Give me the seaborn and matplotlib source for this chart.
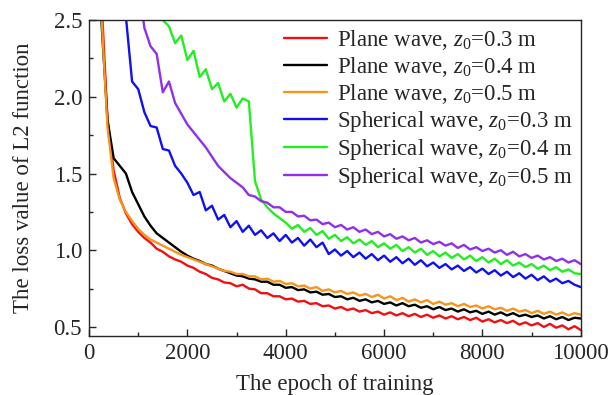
import numpy as np
import pandas as pd
import seaborn as sns
import matplotlib.pyplot as plt

# training epochs, sampled every 125
epochs = np.arange(0, 10001, 125)

plane_03 = [6.0, 4.2, 2.65, 1.85, 1.52, 1.34, 1.24, 1.17, 1.12, 1.08,
            1.05, 1.01, 0.99, 0.96, 0.94, 0.925, 0.90, 0.885, 0.86, 0.845,
            0.82, 0.81, 0.79, 0.785, 0.765, 0.775, 0.75, 0.745, 0.72, 0.72,
            0.70, 0.70, 0.68, 0.685, 0.665, 0.67, 0.65, 0.655, 0.635, 0.64,
            0.62, 0.63, 0.61, 0.62, 0.60, 0.61, 0.59, 0.60, 0.58, 0.595,
            0.575, 0.59, 0.57, 0.585, 0.565, 0.58, 0.56, 0.575, 0.555, 0.57,
            0.55, 0.565, 0.545, 0.56, 0.535, 0.55, 0.53, 0.545, 0.525, 0.54,
            0.515, 0.53, 0.51, 0.525, 0.50, 0.52, 0.495, 0.51, 0.485, 0.505,
            0.48]
plane_04 = [6.0, 4.0, 2.5, 1.85, 1.60, 1.55, 1.50, 1.38, 1.30, 1.22,
            1.16, 1.11, 1.08, 1.05, 1.02, 0.99, 0.965, 0.945, 0.93, 0.91,
            0.90, 0.88, 0.865, 0.85, 0.835, 0.83, 0.815, 0.81, 0.795, 0.795,
            0.775, 0.775, 0.755, 0.76, 0.74, 0.745, 0.725, 0.73, 0.71, 0.715,
            0.695, 0.70, 0.68, 0.69, 0.67, 0.68, 0.66, 0.67, 0.65, 0.66,
            0.64, 0.655, 0.635, 0.645, 0.625, 0.635, 0.615, 0.63, 0.61, 0.62,
            0.60, 0.615, 0.595, 0.605, 0.585, 0.60, 0.58, 0.595, 0.575, 0.59,
            0.57, 0.58, 0.565, 0.575, 0.555, 0.57, 0.55, 0.565, 0.545, 0.56,
            0.555]
plane_05 = [6.0, 4.0, 2.55, 1.80, 1.47, 1.33, 1.25, 1.19, 1.14, 1.10,
            1.07, 1.05, 1.03, 1.01, 0.99, 0.97, 0.955, 0.94, 0.925, 0.91,
            0.895, 0.88, 0.865, 0.86, 0.845, 0.845, 0.83, 0.83, 0.81, 0.815,
            0.795, 0.80, 0.78, 0.785, 0.765, 0.77, 0.75, 0.76, 0.735, 0.745,
            0.725, 0.735, 0.715, 0.725, 0.705, 0.715, 0.695, 0.71, 0.685, 0.70,
            0.675, 0.69, 0.665, 0.68, 0.66, 0.675, 0.65, 0.665, 0.645, 0.655,
            0.635, 0.65, 0.63, 0.64, 0.62, 0.635, 0.615, 0.625, 0.605, 0.62,
            0.60, 0.61, 0.59, 0.605, 0.585, 0.60, 0.58, 0.595, 0.575, 0.59,
            0.58]
sph_03 = [8.0, 6.0, 4.5, 3.6, 3.0, 2.7, 2.52, 2.10, 2.05, 1.90,
          1.81, 1.80, 1.66, 1.65, 1.55, 1.50, 1.44, 1.36, 1.38, 1.26,
          1.29, 1.20, 1.23, 1.15, 1.19, 1.12, 1.16, 1.10, 1.13, 1.08,
          1.11, 1.06, 1.10, 1.05, 1.08, 1.03, 1.07, 1.02, 1.05, 0.975,
          1.005, 0.965, 0.995, 0.955, 0.985, 0.945, 0.975, 0.935, 0.965, 0.925,
          0.955, 0.915, 0.945, 0.905, 0.935, 0.895, 0.92, 0.885, 0.91, 0.875,
          0.90, 0.865, 0.89, 0.855, 0.88, 0.845, 0.87, 0.835, 0.86, 0.825,
          0.85, 0.815, 0.84, 0.805, 0.83, 0.795, 0.815, 0.785, 0.80, 0.775,
          0.76]
sph_04 = [9.0, 8.0, 7.0, 6.0, 5.0, 4.3, 3.7, 3.3, 3.0, 2.8,
          2.68, 2.58, 2.50, 2.46, 2.35, 2.40, 2.24, 2.30, 2.13, 2.18,
          2.05, 2.09, 1.97, 2.02, 1.93, 1.99, 1.97, 1.45, 1.33, 1.28,
          1.24, 1.21, 1.18, 1.14, 1.165, 1.12, 1.145, 1.10, 1.125, 1.075,
          1.10, 1.06, 1.085, 1.045, 1.07, 1.035, 1.06, 1.02, 1.045, 1.01,
          1.035, 0.995, 1.02, 0.985, 1.01, 0.97, 0.995, 0.96, 0.985, 0.95,
          0.975, 0.94, 0.965, 0.93, 0.955, 0.92, 0.945, 0.91, 0.935, 0.90,
          0.92, 0.89, 0.91, 0.88, 0.90, 0.87, 0.89, 0.86, 0.875, 0.85,
          0.845]
sph_05 = [9.0, 8.0, 7.0, 6.0, 5.0, 4.2, 3.6, 3.1, 2.75, 2.45,
          2.33, 2.28, 2.03, 2.10, 1.96, 1.89, 1.82, 1.77, 1.72, 1.67,
          1.61, 1.55, 1.51, 1.47, 1.44, 1.41, 1.36, 1.35, 1.32, 1.31,
          1.28, 1.28, 1.25, 1.25, 1.22, 1.225, 1.195, 1.20, 1.17, 1.18,
          1.15, 1.165, 1.135, 1.15, 1.12, 1.135, 1.105, 1.12, 1.09, 1.105,
          1.075, 1.09, 1.065, 1.08, 1.05, 1.065, 1.04, 1.055, 1.03, 1.045,
          1.015, 1.035, 1.005, 1.02, 0.995, 1.01, 0.985, 1.0, 0.97, 0.99,
          0.96, 0.975, 0.95, 0.965, 0.94, 0.955, 0.93, 0.945, 0.92, 0.935,
          0.91]

labels = ['Plane wave, $z_0$=0.3 m', 'Plane wave, $z_0$=0.4 m',
          'Plane wave, $z_0$=0.5 m', 'Spherical wave, $z_0$=0.3 m',
          'Spherical wave, $z_0$=0.4 m', 'Spherical wave, $z_0$=0.5 m']
colors = ['#f01010', '#000000', '#f7941d', '#1010f0', '#22ee22', '#9030e8']
series = [plane_03, plane_04, plane_05, sph_03, sph_04, sph_05]

frames = []
for lab, vals in zip(labels, series):
    assert len(vals) == len(epochs), lab
    frames.append(pd.DataFrame({'epoch': epochs, 'loss': vals, 'case': lab}))
df = pd.concat(frames, ignore_index=True)

sns.set_style('ticks')
plt.rcParams['font.family'] = ['Liberation Serif', 'DejaVu Serif']
plt.rcParams['mathtext.fontset'] = 'custom'
plt.rcParams['mathtext.rm'] = 'Liberation Serif'
plt.rcParams['mathtext.it'] = 'Liberation Serif:italic'

fig = plt.figure(figsize=(6.1, 3.95), dpi=100)
ax = fig.add_axes([0.146, 0.149, 0.806, 0.80])
sns.lineplot(data=df, x='epoch', y='loss', hue='case', hue_order=labels,
             palette=dict(zip(labels, colors)), estimator=None, sort=False,
             linewidth=1.7, ax=ax)

ax.set_xlim(0, 10000)
ax.set_ylim(0.44, 2.5)
ax.set_xticks(range(0, 10001, 2000))
ax.set_xticks(range(0, 10001, 1000), minor=True)
ax.set_yticks([0.5, 1.0, 1.5, 2.0, 2.5])
ax.set_yticks([0.5, 0.75, 1.0, 1.25, 1.5, 1.75, 2.0, 2.25, 2.5], minor=True)
ax.tick_params(which='both', direction='in', labelsize=16.5)
ax.tick_params(which='major', length=5, width=1, pad=5)
ax.tick_params(which='minor', length=3, width=1)
for s in ax.spines.values():
    s.set_linewidth(1.0)
ax.set_xlabel('The epoch of training', fontsize=16.5, labelpad=7)
ax.set_ylabel('The loss value of L2 function', fontsize=16.5, labelpad=14)

handles, _ = ax.get_legend_handles_labels()
ax.legend(handles, labels, loc='upper right', frameon=False, fontsize=16.5,
          handlelength=1.85, handletextpad=0.45, labelspacing=0.13,
          borderaxespad=0.0, borderpad=0.35)

plt.savefig('out.png', dpi=100)
plt.close()
